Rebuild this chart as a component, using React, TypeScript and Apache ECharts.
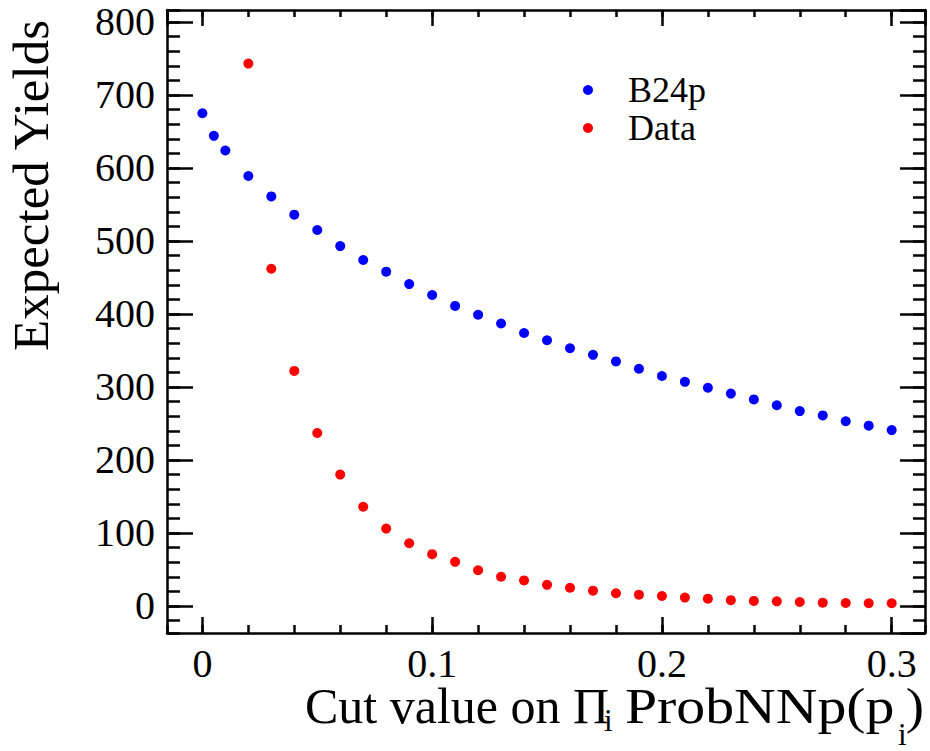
import React, { useEffect, useRef } from "react";
import * as echarts from "echarts";

const cutB24p = [0, 0.005, 0.01, 0.02, 0.03, 0.04, 0.05, 0.06, 0.07, 0.08, 0.09, 0.1, 0.11, 0.12, 0.13, 0.14, 0.15, 0.16, 0.17, 0.18, 0.19, 0.2, 0.21, 0.22, 0.23, 0.24, 0.25, 0.26, 0.27, 0.28, 0.29, 0.3];
const yieldB24p = [675, 644, 624, 589, 561, 536, 515, 493, 474, 458, 441, 426, 411, 399, 387, 374, 364, 353, 344, 335, 325, 315, 307, 299, 291, 283, 275, 267, 261, 253, 247, 241];
const cutData = [0.02, 0.03, 0.04, 0.05, 0.06, 0.07, 0.08, 0.09, 0.1, 0.11, 0.12, 0.13, 0.14, 0.15, 0.16, 0.17, 0.18, 0.19, 0.2, 0.21, 0.22, 0.23, 0.24, 0.25, 0.26, 0.27, 0.28, 0.29, 0.3];
const yieldData = [743, 462, 322, 237, 180, 136, 106, 86, 71, 60.5, 49, 40, 35, 29, 25, 21, 17.5, 15.5, 13.7, 11.5, 10, 8, 7, 6.4, 5.5, 4.6, 4.1, 3.7, 3.7];
const seriesNames = ["B24p", "Data"];

const X_MIN = -0.0154;
const X_MAX = 0.3145;
const Y_MIN = -37;
const Y_MAX = 816.4;

const FONT = "Liberation Serif";

function zip(xs: number[], ys: number[]) {
  return xs.map((x, i) => [x, ys[i]]);
}

function isNice(v: number, step: number) {
  const r = v / step;
  return Math.abs(r - Math.round(r)) < 1e-6;
}

export default function App() {
  const ref = useRef<HTMLDivElement>(null);
  useEffect(() => {
    document.body.style.margin = "0";
    const chart = echarts.init(ref.current!, null, { renderer: "svg" });
    const line = { color: "#000", width: 2.5 };
    const xAx = (pos: string, split: number, len: number, major: boolean, labels: boolean) => ({
      type: "value",
      position: pos,
      min: X_MIN,
      max: X_MAX,
      splitNumber: split,
      axisLine: { show: major, onZero: false, lineStyle: line },
      axisTick: { show: true, inside: true, length: len, lineStyle: line },
      axisLabel: labels
        ? {
            show: true,
            margin: 12,
            fontSize: 40,
            lineHeight: 36,
            fontFamily: FONT,
            color: "#000",
            showMinLabel: false,
            showMaxLabel: false,
            formatter: (v: number) => (isNice(v, 0.1) ? String(Math.round(v * 10) / 10) : ""),
          }
        : { show: false },
      splitLine: { show: false },
    });
    const yAx = (pos: string, split: number, len: number, major: boolean, labels: boolean) => ({
      type: "value",
      position: pos,
      min: Y_MIN,
      max: Y_MAX,
      splitNumber: split,
      axisLine: { show: major, onZero: false, lineStyle: line },
      axisTick: { show: true, inside: true, length: len, lineStyle: line },
      axisLabel: labels
        ? {
            show: true,
            margin: 12,
            fontSize: 40,
            fontFamily: FONT,
            color: "#000",
            showMinLabel: false,
            showMaxLabel: false,
            formatter: (v: number) => (isNice(v, 100) ? String(Math.round(v)) : ""),
          }
        : { show: false },
      splitLine: { show: false },
    });
    chart.setOption({
      animation: false,
      backgroundColor: "#fff",
      grid: { left: 167, top: 10, right: 5, bottom: 118, containLabel: false },
      xAxis: [
        xAx("bottom", 3, 16, true, true),
        xAx("bottom", 16, 8, false, false),
        xAx("top", 3, 16, true, false),
        xAx("top", 16, 7, false, false),
      ],
      yAxis: [
        yAx("left", 8, 26, true, true),
        yAx("left", 42, 13, false, false),
        yAx("right", 8, 25, true, false),
        yAx("right", 42, 12, false, false),
      ],
      legend: {
        data: seriesNames,
        orient: "vertical",
        left: 578,
        top: 67,
        itemWidth: 10,
        itemHeight: 10,
        itemGap: 2,
        icon: "circle",
        textStyle: { fontSize: 36, fontFamily: FONT, color: "#000", padding: [0, 0, 6, 30] },
      },
      series: [
        {
          name: seriesNames[0],
          type: "scatter",
          xAxisIndex: 0,
          yAxisIndex: 0,
          symbol: "circle",
          symbolSize: 10,
          itemStyle: { color: "#0000ff", opacity: 1 },
          data: zip(cutB24p, yieldB24p),
        },
        {
          name: seriesNames[1],
          type: "scatter",
          xAxisIndex: 0,
          yAxisIndex: 0,
          symbol: "circle",
          symbolSize: 10,
          itemStyle: { color: "#ff0000", opacity: 1 },
          data: zip(cutData, yieldData),
        },
      ],
      graphic: [
        {
          type: "text",
          x: 31,
          y: 20,
          rotation: Math.PI / 2,
          style: { text: "Expected Yields", fontSize: 51, fontFamily: FONT, fill: "#000", align: "right", verticalAlign: "middle" },
        },
        {
          type: "text",
          x: 305,
          y: 706,
          style: { text: "Cut value on Π", fontSize: 50, lineHeight: 34, fontFamily: FONT, fill: "#000", align: "left", verticalAlign: "middle" },
        },
        {
          type: "text",
          x: 604,
          y: 720,
          style: { text: "i", fontSize: 31, lineHeight: 20, fontFamily: FONT, fill: "#000", align: "left", verticalAlign: "middle" },
        },
        {
          type: "text",
          x: 625,
          y: 706,
          scaleX: 1.155,
          style: { text: "ProbNNp(p", fontSize: 50, lineHeight: 34, fontFamily: FONT, fill: "#000", align: "left", verticalAlign: "middle" },
        },
        {
          type: "text",
          x: 898,
          y: 734,
          style: { text: "i", fontSize: 31, lineHeight: 20, fontFamily: FONT, fill: "#000", align: "left", verticalAlign: "middle" },
        },
        {
          type: "text",
          x: 924,
          y: 706,
          scaleX: 1.1,
          style: { text: ")", fontSize: 50, lineHeight: 34, fontFamily: FONT, fill: "#000", align: "right", verticalAlign: "middle" },
        },
      ],
    });
    return () => chart.dispose();
  }, []);
  return <div ref={ref} style={{ width: 930, height: 751 }} />;
}
